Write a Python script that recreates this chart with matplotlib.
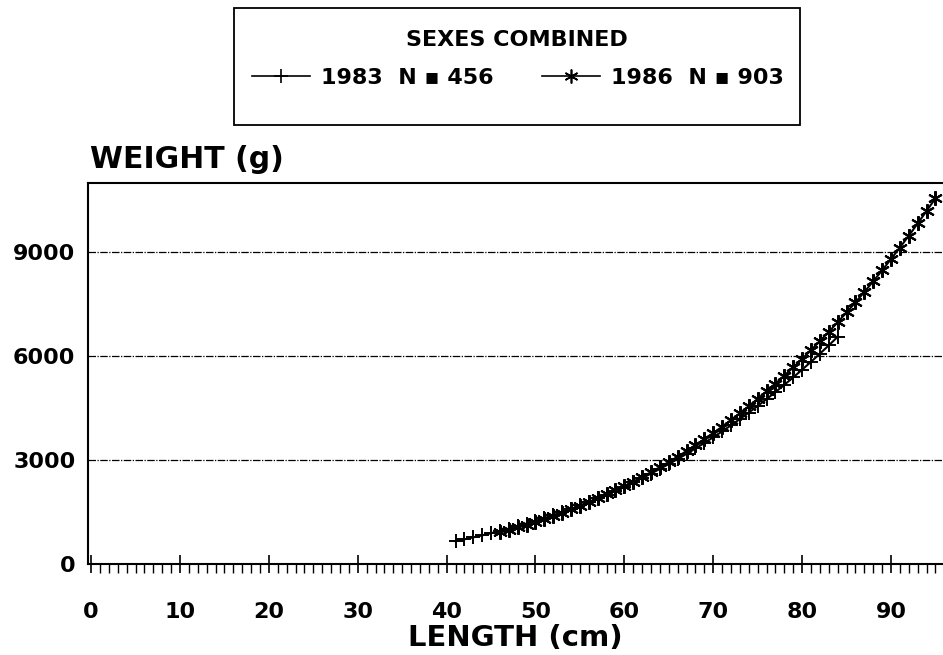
import matplotlib
matplotlib.use("Agg")
import matplotlib.pyplot as plt
from matplotlib.ticker import MultipleLocator
from matplotlib.lines import Line2D
from matplotlib.patches import Rectangle

# 1. Data (length in cm, weight in g)
length_1983 = list(range(41, 85))
weight_1983 = [660, 713, 769, 827, 889, 954, 1022, 1093, 1168, 1246,
               1327, 1412, 1502, 1594, 1690, 1791, 1896, 2004, 2116, 2233,
               2355, 2481, 2611, 2747, 2886, 3031, 3180, 3335, 3494, 3659,
               3829, 4005, 4186, 4372, 4564, 4761, 4965, 5174, 5389, 5611,
               5838, 6073, 6312, 6560]

length_1986 = list(range(46, 96))
weight_1986 = [920, 989, 1062, 1138, 1218, 1302, 1390, 1482, 1578, 1679,
               1784, 1894, 2007, 2126, 2250, 2379, 2512, 2651, 2796, 2945,
               3101, 3262, 3428, 3601, 3780, 3964, 4156, 4353, 4557, 4767,
               4984, 5208, 5440, 5677, 5923, 6175, 6436, 6703, 6980, 7262,
               7554, 7855, 8162, 8478, 8804, 9136, 9478, 9832, 10192, 10559]

labels = ["1983  N \u25aa 456", "1986  N \u25aa 903"]
y_ticks = [0, 3000, 6000, 9000]
x_ticks = [0, 10, 20, 30, 40, 50, 60, 70, 80, 90]

plt.rcParams['font.family'] = ['DejaVu Sans']
plt.rcParams['font.weight'] = 'bold'

W, H = 943, 655
fig = plt.figure(figsize=(W / 100, H / 100), dpi=100)
ax = fig.add_axes([88 / W, 1 - 564 / H, 1 - 88 / W, (564 - 183) / H])

# 2. Curves
asterisk = (6, 2, 0)
ax.plot(length_1983, weight_1983, color='black', lw=1.5, marker='+',
        markersize=9.5, mew=1.4, clip_on=False, zorder=3)
ax.plot(length_1986, weight_1986, color='black', lw=1.5, marker=asterisk,
        markersize=10.5, mew=1.5, clip_on=False, zorder=3)

# 3. Axes formatting
ax.set_xlim(-0.35, 95.85)
ax.set_ylim(0, 11000)
ax.set_yticks(y_ticks)
ax.set_xticks(x_ticks)
ax.xaxis.set_minor_locator(MultipleLocator(1))

for y in y_ticks[1:]:
    ax.axhline(y, color='black', lw=0.9, ls=(0, (6, 1.2, 1, 1.2)), zorder=1)

for side in ['top', 'left', 'bottom']:
    ax.spines[side].set_linewidth(1.5)
ax.spines['right'].set_visible(False)

ax.tick_params(axis='y', length=0, pad=9, labelsize=16)
ax.tick_params(axis='x', which='major', direction='inout', length=13,
               width=1.2, pad=21, labelsize=16)
ax.tick_params(axis='x', which='minor', direction='out', length=6.5, width=1.0)

fig.text(90 / W, 1 - 168 / H, 'WEIGHT (g)', fontsize=21.5, ha='left',
         va='baseline')
fig.text(515 / W, 1 - 646 / H, 'LENGTH (cm)', fontsize=21, ha='center',
         va='baseline')

# 4. Legend box: frame, title and entries
fig.patches.append(Rectangle((234 / W, 1 - 125 / H), (800 - 234) / W, (125 - 8) / H,
                             transform=fig.transFigure, fill=False,
                             edgecolor='black', lw=1.3))
fig.text(517 / W, 1 - 40 / H, 'SEXES COMBINED', fontsize=16, ha='center',
         va='center')
handles = [Line2D([], [], color='black', lw=1.2, marker='+', markersize=10, mew=1.2),
           Line2D([], [], color='black', lw=1.2, marker=asterisk, markersize=10, mew=1.2)]
leg = fig.legend(handles, labels, loc='center',
                 bbox_to_anchor=(518 / W, 1 - 78 / H), ncol=2, numpoints=1,
                 frameon=False, prop={'weight': 'bold', 'size': 16},
                 handlelength=2.6, handletextpad=0.5, columnspacing=2.2,
                 borderpad=0, borderaxespad=0)

fig.savefig('out.png', dpi=100)
